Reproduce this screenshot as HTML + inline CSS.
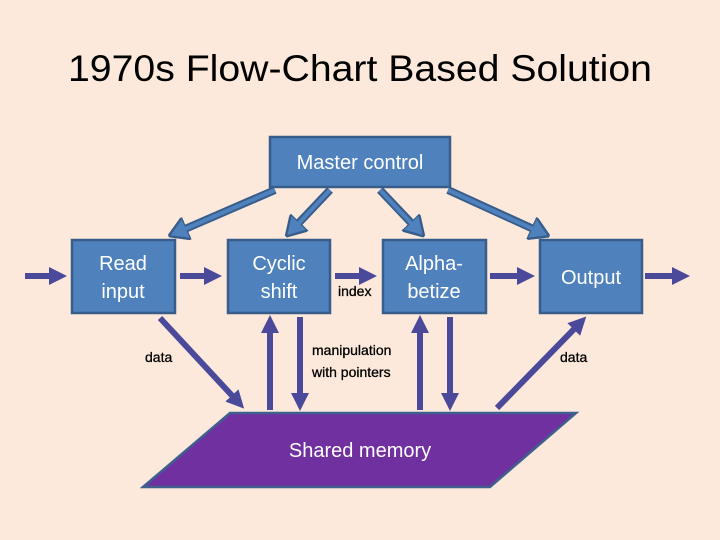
<!DOCTYPE html>
<html><head><style>
body{margin:0;background:#fde9db;}
svg{display:block;font-family:"Liberation Sans",sans-serif;}
</style></head><body>
<svg width="720" height="540" viewBox="0 0 720 540">
<defs>
<marker id="a" markerWidth="3" markerHeight="3" refX="1.5" refY="1.5" orient="auto"><path d="M0,0 L3,1.5 L0,3 z" fill="#4b4a9a"/></marker>
<marker id="b" markerWidth="2.5" markerHeight="3" refX="1.2" refY="1.5" orient="auto"><path d="M0,0 L2.5,1.5 L0,3 z" fill="#4f81bd" stroke="#385d8a" stroke-width="0.3"/></marker>
</defs>
<rect width="720" height="540" fill="#fde9db"/>
<text x="68" y="81" font-size="37" textLength="584" lengthAdjust="spacingAndGlyphs" fill="#000">1970s Flow-Chart Based Solution</text>
<g fill="#4f81bd" stroke="#385d8a" stroke-width="2.5">
<rect x="270" y="137" width="180" height="50"/>
<rect x="72" y="240" width="103" height="73"/>
<rect x="228" y="240" width="102" height="73"/>
<rect x="383" y="240" width="103" height="73"/>
<rect x="540" y="240" width="102" height="73"/>
</g>
<g stroke="#385d8a" stroke-width="8" marker-end="url(#b)">
<line x1="275" y1="190" x2="178" y2="232"/>
<line x1="330" y1="190" x2="293" y2="229"/>
<line x1="380" y1="190" x2="417" y2="229"/>
<line x1="448" y1="190" x2="540" y2="232"/>
</g>
<g stroke="#4f81bd" stroke-width="4">
<line x1="275" y1="190" x2="185" y2="229"/>
<line x1="330" y1="190" x2="298" y2="224"/>
<line x1="380" y1="190" x2="412" y2="224"/>
<line x1="448" y1="190" x2="533" y2="229"/>
</g>
<polygon points="230,413 576,413 490,487 143,487" fill="#7030a0" stroke="#3f5f8f" stroke-width="2.5"/>
<g stroke="#4b4a9a" stroke-width="6" marker-end="url(#a)">
<line x1="25" y1="276" x2="58" y2="276"/>
<line x1="180" y1="276" x2="213" y2="276"/>
<line x1="335" y1="276" x2="368" y2="276"/>
<line x1="490" y1="276" x2="526" y2="276"/>
<line x1="645" y1="276" x2="681" y2="276"/>
<line x1="160" y1="318" x2="238" y2="402"/>
<line x1="270" y1="410" x2="270" y2="324"/>
<line x1="300" y1="317" x2="300" y2="402"/>
<line x1="420" y1="410" x2="420" y2="324"/>
<line x1="450" y1="317" x2="450" y2="402"/>
<line x1="497" y1="408" x2="580" y2="323"/>
</g>
<g fill="#fff" font-size="20" text-anchor="middle">
<text x="360" y="169">Master control</text>
<text x="123" y="270">Read</text><text x="123" y="298">input</text>
<text x="279" y="270">Cyclic</text><text x="279" y="298">shift</text>
<text x="434" y="270">Alpha-</text><text x="434" y="298">betize</text>
<text x="591" y="284">Output</text>
<text x="360" y="457">Shared memory</text>
</g>
<g fill="#000" font-size="14" stroke="#000" stroke-width="0.3">
<text x="338" y="296">index</text>
<text x="145" y="362">data</text>
<text x="560" y="362">data</text>
<text x="312" y="355">manipulation</text>
<text x="312" y="377">with pointers</text>
</g>
</svg>
</body></html>
